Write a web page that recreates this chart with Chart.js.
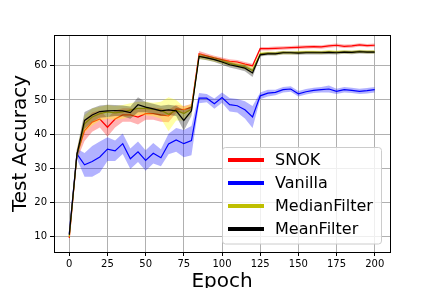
<!DOCTYPE html>
<html>
<head>
<meta charset="utf-8">
<script src="https://cdn.jsdelivr.net/npm/chart.js@4/dist/chart.umd.min.js"></script>
<style>
  html, body { margin: 0; padding: 0; background: #fff; }
  #c { display: block; }
</style>
</head>
<body>
<canvas id="c" width="432" height="288"></canvas>
<script>
const epochs = [0,5,10,15,20,25,30,35,40,45,50,55,60,65,70,75,80,85,90,95,100,105,110,115,120,125,130,135,140,145,150,155,160,165,170,175,180,185,190,195,200];

const snok    = [9.6,34,41,43.5,44.4,42,44.4,45.6,45.6,45,46,46,45.6,45.3,47.4,47.2,47.8,63.5,62.9,62.3,61.8,61.3,61.1,60.5,60,65,65,65.1,65.2,65.3,65.4,65.5,65.6,65.5,65.8,66,65.7,65.8,66.1,65.9,66];
const snokStd = [1,1.5,3,2.8,2.5,2.8,2.5,2,2,2.2,1.8,1.8,2,1.8,1.2,1,1,0.8,0.7,0.6,0.6,0.6,0.6,0.6,0.6,0.5,0.5,0.5,0.5,0.5,0.5,0.5,0.5,0.5,0.5,0.5,0.5,0.5,0.5,0.5,0.5];

const vanilla    = [10.8,34.2,31,32,33.3,35.6,35.1,37.2,32.8,34.8,32.3,34.4,33.1,37.1,38.3,37.2,38.1,50.5,50.5,48.9,50.7,48.6,48.3,47.1,45,51.2,52,52.2,53,53.2,51.8,52.4,52.8,53,53.2,52.5,53,52.8,52.5,52.7,53];
const vanillaStd = [1,1.5,3.5,4.5,4.5,3.5,3,3,3,3,3,3,2.5,3,3.5,4,4.3,1.5,1.2,1.5,1.5,2,2,2.5,3.2,1,1,0.8,0.8,0.8,0.8,0.8,0.8,0.8,1,0.8,0.8,0.8,0.8,0.8,0.8];

const median    = [10,34,43,45,46,46.5,46.2,46.5,47,47.5,47.5,47.2,47,45.8,47,46,47.3,62.8,62.4,61.9,61.3,60.7,60.2,59.7,58.6,63.5,63.7,63.6,63.9,63.8,63.9,64,64,63.9,64.1,64,64.1,64,64.2,64.1,64.1];
const medianStd = [1,1.5,2.5,2.5,2,2,2,2,2,2,2,2,2.5,5,3,2,1.5,0.8,0.7,0.7,0.7,0.7,0.7,0.8,1,0.6,0.5,0.5,0.5,0.5,0.5,0.5,0.5,0.5,0.5,0.5,0.5,0.5,0.5,0.5,0.5];

const meanF    = [10.5,34,44,45.6,46.6,46.8,46.9,46.8,46.3,48.6,47.9,47.4,46.8,47.1,46.8,44,46.8,62.7,62.3,61.8,61.1,60.3,59.8,59.3,57.9,63.2,63.5,63.5,63.8,63.8,63.7,63.8,63.8,63.8,63.9,63.8,64,63.9,64.1,64,64];
const meanFStd = [1,1.5,2.5,2,1.8,1.8,1.6,1.6,1.8,2.2,1.5,1.5,1.5,1.5,1.5,3,1.5,0.7,0.7,0.7,0.8,0.8,0.8,0.9,1.2,0.5,0.5,0.5,0.5,0.5,0.5,0.5,0.5,0.5,0.5,0.5,0.5,0.5,0.5,0.5,0.5];

const xTicks = [0,25,50,75,100,125,150,175,200];
const yTicks = [10,20,30,40,50,60];

const seriesNames  = ['SNOK','Vanilla','MedianFilter','MeanFilter'];
const seriesColors = ['#ff0000','#0000ff','#bfbf00','#000000'];
const bandColors   = ['rgba(255,0,0,0.3)','rgba(0,0,255,0.3)','rgba(255,255,0,0.35)','rgba(0,0,0,0.3)'];
const seriesMeans  = [snok, vanilla, median, meanF];
const seriesStds   = [snokStd, vanillaStd, medianStd, meanFStd];

function pts(arr) { return epochs.map((e, i) => ({ x: e, y: arr[i] })); }

const datasets = [];
seriesMeans.forEach((m, k) => {
  const s = seriesStds[k];
  datasets.push({ data: pts(m.map((v, i) => v + s[i])), borderWidth: 0, pointRadius: 0, fill: false, borderColor: 'rgba(0,0,0,0)' });
  datasets.push({ data: pts(m.map((v, i) => v - s[i])), borderWidth: 0, pointRadius: 0, fill: '-1', backgroundColor: bandColors[k], borderColor: 'rgba(0,0,0,0)' });
  datasets.push({ label: seriesNames[k], data: pts(m), borderWidth: 1.2, pointRadius: 0, fill: false, borderColor: seriesColors[k], tension: 0 });
});
datasets.forEach((d, i) => { d.order = datasets.length - i; });

const framePlugin = {
  id: 'frame',
  afterDraw(chart) {
    const ctx = chart.ctx, a = chart.chartArea;
    ctx.save();
    ctx.strokeStyle = '#000';
    ctx.lineWidth = 1;
    ctx.strokeRect(Math.round(a.left) + 0.5, Math.round(a.top) + 0.5, Math.round(a.right - a.left), Math.round(a.bottom - a.top));

    // axis titles
    ctx.fillStyle = '#000';
    ctx.font = '20px "DejaVu Sans"';
    ctx.textAlign = 'center';
    ctx.textBaseline = 'alphabetic';
    ctx.fillText('Epoch', (a.left + a.right) / 2, 287);
    ctx.save();
    ctx.translate(26, (a.top + a.bottom) / 2);
    ctx.rotate(-Math.PI / 2);
    ctx.fillText('Test Accuracy', 0, 0);
    ctx.restore();

    // legend
    const lx = 222.5, ly = 147.5, lw = 159, lh = 96.5, r = 3;
    ctx.beginPath();
    ctx.moveTo(lx + r, ly);
    ctx.lineTo(lx + lw - r, ly); ctx.quadraticCurveTo(lx + lw, ly, lx + lw, ly + r);
    ctx.lineTo(lx + lw, ly + lh - r); ctx.quadraticCurveTo(lx + lw, ly + lh, lx + lw - r, ly + lh);
    ctx.lineTo(lx + r, ly + lh); ctx.quadraticCurveTo(lx, ly + lh, lx, ly + lh - r);
    ctx.lineTo(lx, ly + r); ctx.quadraticCurveTo(lx, ly, lx + r, ly);
    ctx.closePath();
    ctx.fillStyle = 'rgba(255,255,255,0.8)';
    ctx.fill();
    ctx.strokeStyle = '#cccccc';
    ctx.lineWidth = 1;
    ctx.stroke();

    ctx.font = '16px "DejaVu Sans"';
    ctx.textAlign = 'left';
    ctx.textBaseline = 'middle';
    seriesNames.forEach((n, i) => {
      const y = 160 + i * 23;
      ctx.strokeStyle = seriesColors[i];
      ctx.lineWidth = 4;
      ctx.beginPath();
      ctx.moveTo(228, y);
      ctx.lineTo(264, y);
      ctx.stroke();
      ctx.fillStyle = '#000';
      ctx.fillText(n, 275, y + 1);
    });
    ctx.restore();
  }
};

new Chart(document.getElementById('c'), {
  type: 'line',
  data: { datasets },
  plugins: [framePlugin],
  options: {
    responsive: false,
    animation: false,
    layout: { padding: { left: 0, right: 42, top: 35, bottom: 0 } },
    plugins: { legend: { display: false }, tooltip: { enabled: false }, filler: { propagate: false } },
    scales: {
      x: {
        type: 'linear', min: -10, max: 210,
        afterBuildTicks: s => { s.ticks = xTicks.map(v => ({ value: v })); },
        afterFit: s => { s.height = 36; },
        grid: { color: '#b0b0b0', lineWidth: 1, tickLength: 4, tickColor: '#000', drawOnChartArea: true },
        border: { display: false },
        ticks: { color: '#000', font: { family: 'DejaVu Sans', size: 10 }, padding: 2, maxRotation: 0, autoSkip: false }
      },
      y: {
        type: 'linear', min: 5.5, max: 69,
        afterBuildTicks: s => { s.ticks = yTicks.map(v => ({ value: v })); },
        afterFit: s => { s.width = 54; },
        grid: { color: '#b0b0b0', lineWidth: 1, tickLength: 4, tickColor: '#000' },
        border: { display: false },
        ticks: { color: '#000', font: { family: 'DejaVu Sans', size: 10 }, padding: 3, autoSkip: false }
      }
    }
  }
});
</script>
</body>
</html>
